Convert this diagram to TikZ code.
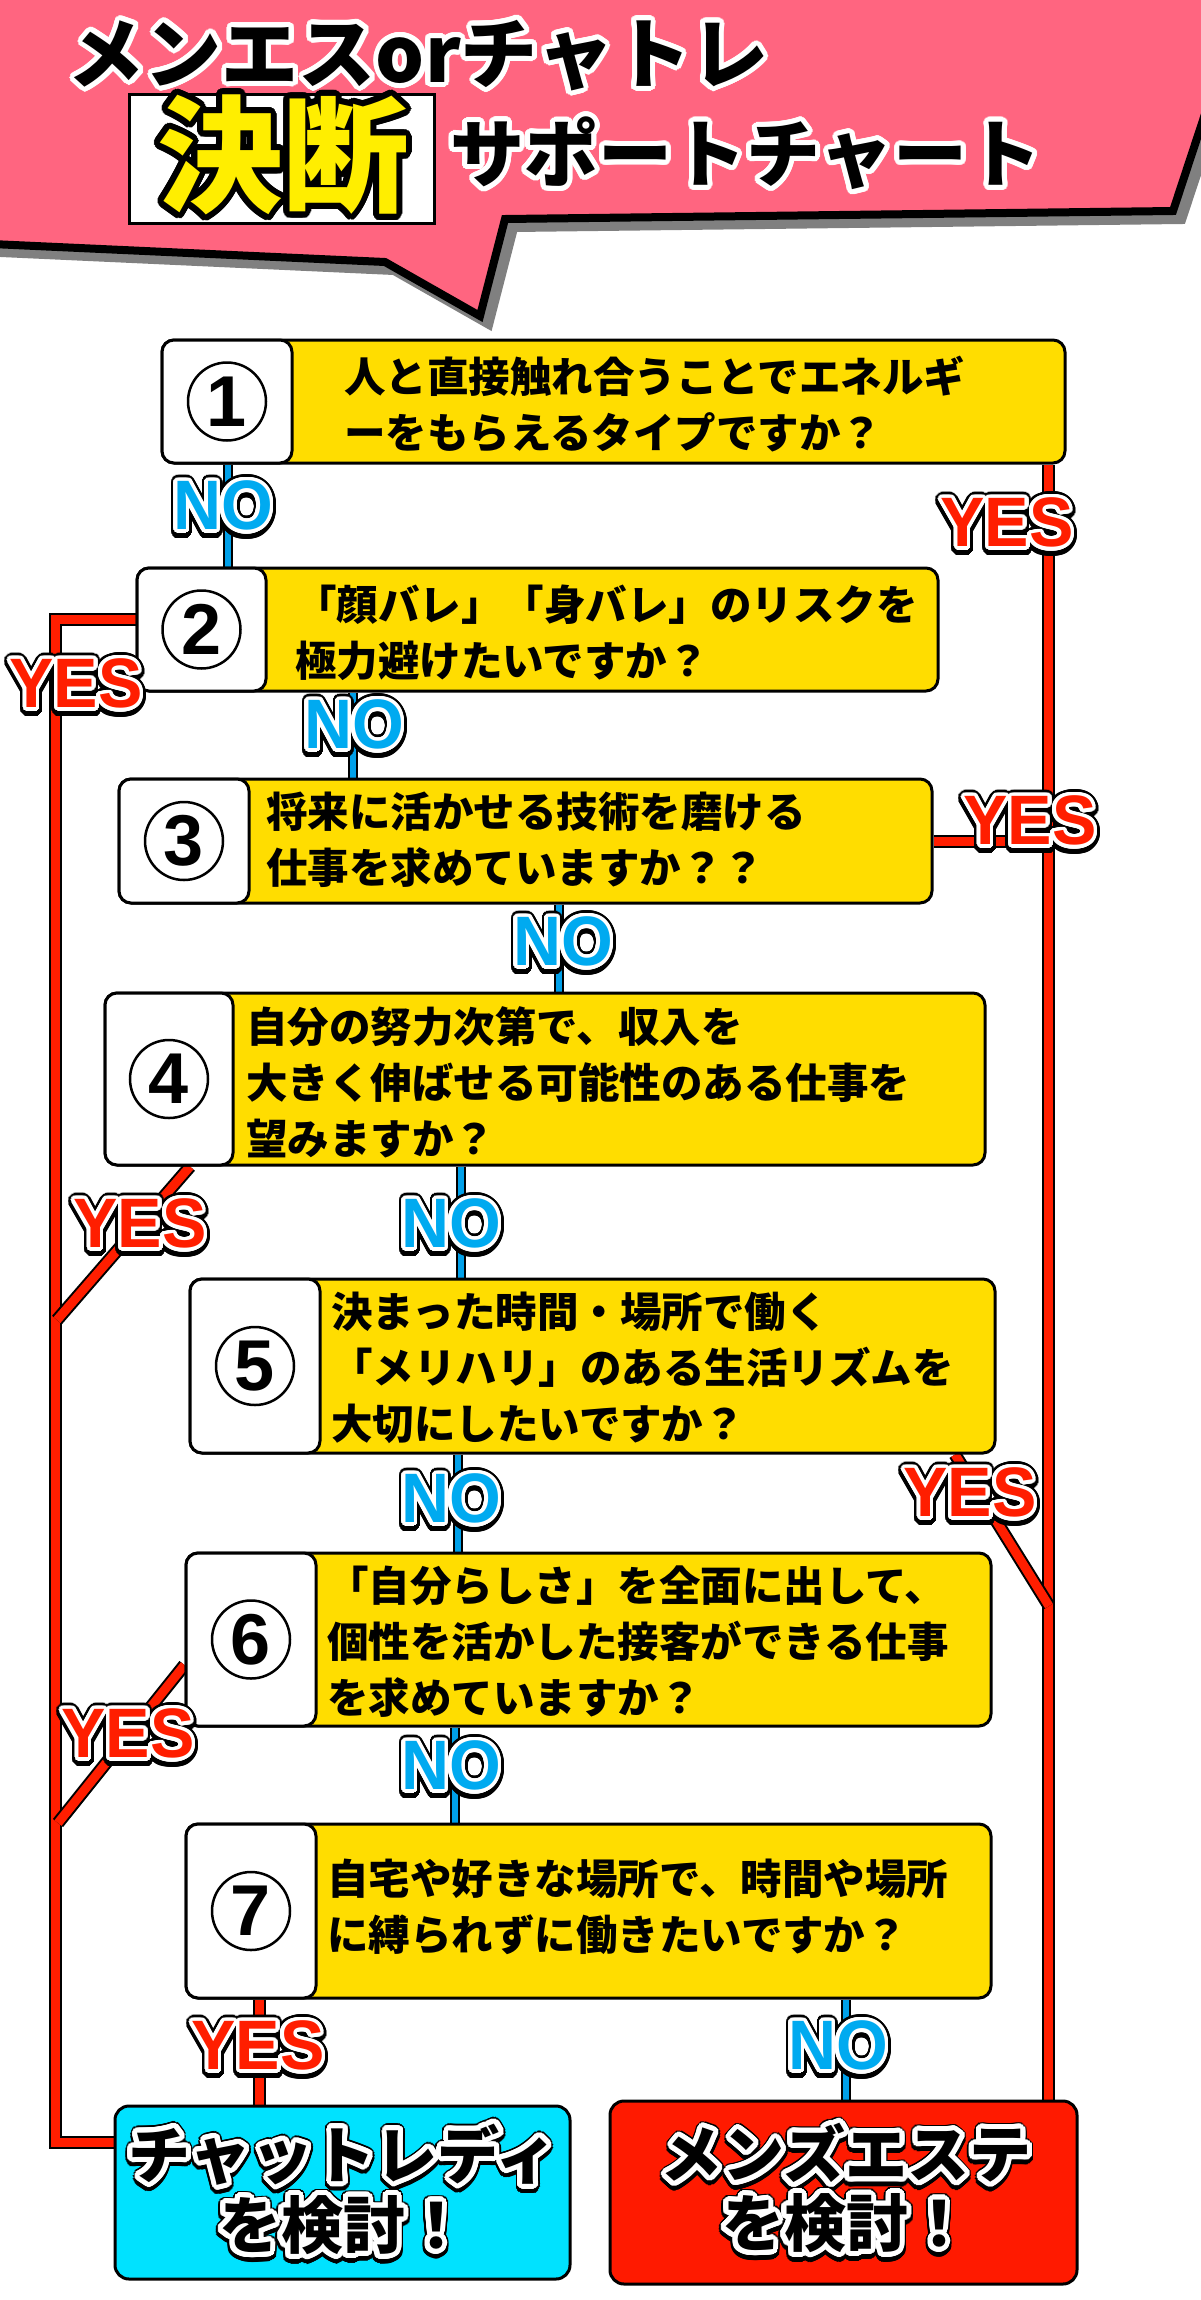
\documentclass[tikz,border=0pt]{standalone}
\usepackage{fontspec}
\usepackage[copies]{contour}
\newfontfamily\jp{Noto Sans CJK JP}
\newfontfamily\lab{Liberation Sans}[FakeStretch=0.95]
\newfontfamily\dig{Liberation Sans}
\definecolor{pinkbg}{RGB}{255,101,128}
\definecolor{qyellow}{RGB}{255,221,0}
\definecolor{noblue}{RGB}{0,170,240}
\definecolor{lineblue}{RGB}{0,160,233}
\definecolor{yesred}{RGB}{255,30,0}
\definecolor{chatcyan}{RGB}{0,226,255}
\definecolor{mensred}{RGB}{255,26,0}
\definecolor{titleyellow}{RGB}{255,238,0}
\definecolor{shadowgray}{RGB}{128,128,128}
\contournumber{32}
\newcommand\outl[4]{%
  \leavevmode
  \rlap{\raisebox{-3pt}{\contourlength{#3}\contour{black}{#4}}}%
  \rlap{\contourlength{#3}\contour{black}{#4}}%
  \contourlength{#2}\textcolor{#1}{\contour{white}{#4}}}
\pgfdeclarelayer{bg}
\pgfdeclarelayer{conn}
\pgfsetlayers{bg,conn,main}
\begin{document}
\begin{tikzpicture}[x=1pt,y=-1pt,
  qbox/.style={rectangle, draw=black, line width=3pt, fill=qyellow, rounded corners=12pt, inner sep=0pt},
  wpart/.style={rectangle, draw=black, line width=3pt, fill=white, rounded corners=12pt, inner sep=0pt, anchor=west},
  numc/.style={circle, draw=black, line width=2.5pt, fill=white, minimum size=78pt, inner sep=0pt, font=\dig\bfseries\fontsize{72}{72}\selectfont},
  qtext/.style={anchor=west, align=left, inner sep=0pt, font=\jp\bfseries\fontsize{41.5}{56}\selectfont},
  noline/.style={line width=1.75pt, draw=black, double=lineblue, double distance=6.5pt},
  yesline/.style={line width=2pt, draw=black, double=yesred, double distance=9pt},
  lbl/.style={inner sep=0pt, font=\lab\bfseries\fontsize{70}{70}\selectfont},
  fbox/.style={rectangle, draw=black, line width=3pt, rounded corners=14pt, inner sep=0pt},
  ftext/.style={inner sep=0pt, align=center, font=\jp\bfseries\fontsize{62}{69}\selectfont},
]
\begin{pgfonlayer}{bg}
\fill[white] (0,0) rectangle (1200,2300);
\end{pgfonlayer}
\useasboundingbox (0,0) rectangle (1200,2300);

% ---------- banner ----------
\filldraw[shadowgray, line width=8pt, line join=miter, shift={(9,9)}]
  (-30,-30) -- (1250,-30) -- (1240,8) -- (1173,211) -- (505,219) -- (480,316) -- (385,262) -- (-30,243) -- cycle;
\filldraw[fill=pinkbg, draw=black, line width=8pt, line join=miter]
  (-30,-30) -- (1250,-30) -- (1240,8) -- (1173,211) -- (505,219) -- (480,316) -- (385,262) -- (-30,243) -- cycle;
\node[inner sep=0pt, font=\jp\bfseries\fontsize{77}{77}\selectfont] (title1) at (418,58)
  {\contourlength{5pt}\textcolor{black}{\contour{white}{メンエスorチャトレ}}};
\node[rectangle, draw=black, line width=3pt, fill=white, minimum width=305pt, minimum height=129pt, inner sep=0pt] (kbox) at (281.5,159) {};
\node[inner sep=0pt, font=\jp\bfseries\fontsize{126}{126}\selectfont] (kettei) at (283,158)
  {\contourlength{6pt}\textcolor{titleyellow}{\contour{black}{決断}}};
\node[inner sep=0pt, font=\jp\bfseries\fontsize{74}{74}\selectfont] (title2) at (746,156)
  {\contourlength{5pt}\textcolor{black}{\contour{white}{サポートチャート}}};

% ---------- question boxes ----------
\node[qbox, minimum width=903pt, minimum height=123pt] (b1) at (613.5,401.5) {};
\node[wpart, minimum width=130pt, minimum height=123pt] (w1) at (b1.west) {};
\node[numc] (c1) at (w1) {1};
\node[qtext] (t1) at (344,404) {人と直接触れ合うことでエネルギ\\ーをもらえるタイプですか？};

\node[qbox, minimum width=801pt, minimum height=123pt] (b2) at (537.5,629.5) {};
\node[wpart, minimum width=129pt, minimum height=123pt] (w2) at (b2.west) {};
\node[numc] (c2) at (w2) {2};
\node[qtext] (t2) at (295,633) {「顔バレ」「身バレ」のリスクを\\極力避けたいですか？};

\node[qbox, minimum width=813pt, minimum height=124pt] (b3) at (525.5,841) {};
\node[wpart, minimum width=130pt, minimum height=124pt] (w3) at (b3.west) {};
\node[numc] (c3) at (w3) {3};
\node[qtext] (t3) at (266,840) {将来に活かせる技術を磨ける\\仕事を求めていますか？？};

\node[qbox, minimum width=880pt, minimum height=172pt] (b4) at (545,1079) {};
\node[wpart, minimum width=128pt, minimum height=172pt] (w4) at (b4.west) {};
\node[numc] (c4) at (w4) {4};
\node[qtext] (t4) at (246,1082) {自分の努力次第で、収入を\\大きく伸ばせる可能性のある仕事を\\望みますか？};

\node[qbox, minimum width=805pt, minimum height=174pt] (b5) at (592.5,1366) {};
\node[wpart, minimum width=130pt, minimum height=174pt] (w5) at (b5.west) {};
\node[numc] (c5) at (w5) {5};
\node[qtext] (t5) at (331,1368) {決まった時間・場所で働く\\「メリハリ」のある生活リズムを\\大切にしたいですか？};

\node[qbox, minimum width=805pt, minimum height=173pt] (b6) at (588.5,1639.5) {};
\node[wpart, minimum width=130pt, minimum height=173pt] (w6) at (b6.west) {};
\node[numc] (c6) at (w6) {6};
\node[qtext] (t6) at (327,1642) {「自分らしさ」を全面に出して、\\個性を活かした接客ができる仕事\\を求めていますか？};

\node[qbox, minimum width=805pt, minimum height=174pt] (b7) at (588.5,1911) {};
\node[wpart, minimum width=130pt, minimum height=174pt] (w7) at (b7.west) {};
\node[numc] (c7) at (w7) {7};
\node[qtext] (t7) at (327,1907) {自宅や好きな場所で、時間や場所\\に縛られずに働きたいですか？};

% ---------- result boxes ----------
\node[fbox, fill=chatcyan, minimum width=455pt, minimum height=173pt] (chat) at (342.5,2192.5) {};
\node[ftext] (chatt) at (343,2194) {\outl{black}{5pt}{6.5pt}{チャットレディ}\\\outl{black}{5pt}{6.5pt}{を検討！}};
\node[fbox, fill=mensred, minimum width=467pt, minimum height=183pt] (mens) at (843.5,2192.5) {};
\node[ftext] (menst) at (846,2193) {\outl{black}{5pt}{6.5pt}{メンズエステ}\\\outl{black}{5pt}{6.5pt}{を検討！}};

% ---------- helper coordinates ----------
\coordinate (x228) at (228,0);
\coordinate (x353) at (353,0);
\coordinate (x559) at (559,0);
\coordinate (x461) at (461,0);
\coordinate (x458) at (458,0);
\coordinate (x455) at (455,0);
\coordinate (x846) at (846,0);
\coordinate (x1048) at (1048,0);
\coordinate (x259) at (259,0);
\coordinate (x190) at (190,0);
\coordinate (x955) at (955,0);
\coordinate (y1665) at (0,1665);
\coordinate (yes2a) at (55,619);
\coordinate (yes2b) at (55,2142);
\coordinate (yes4e) at (57,1320);
\coordinate (yes5e) at (1049,1606);
\coordinate (yes6e) at (58,1823);

% ---------- connectors ----------
\begin{pgfonlayer}{conn}
\draw[yesline] (b1.south -| x1048) -- (mens.north -| x1048);
\draw[yesline] (yes2a -| b2.west) -- (yes2a) -- (yes2b) -- (yes2b -| chat.west);
\draw[yesline] (b3.east) -- (b3.east -| x1048);
\draw[yesline] (b4.south -| x190) -- (yes4e);
\draw[yesline] (b5.south -| x955) -- (yes5e);
\draw[yesline] (b6.west |- y1665) -- (yes6e);
\draw[yesline] (b7.south -| x259) -- (chat.north -| x259);
\draw[noline] (b1.south -| x228) -- (b2.north -| x228);
\draw[noline] (b2.south -| x353) -- (b3.north -| x353);
\draw[noline] (b3.south -| x559) -- (b4.north -| x559);
\draw[noline] (b4.south -| x461) -- (b5.north -| x461);
\draw[noline] (b5.south -| x458) -- (b6.north -| x458);
\draw[noline] (b6.south -| x455) -- (b7.north -| x455);
\draw[noline] (b7.south -| x846) -- (mens.north -| x846);
\end{pgfonlayer}

% ---------- labels ----------
\node[lbl] (lno1) at (223,510) {\outl{noblue}{3.5pt}{6pt}{NO}};
\node[lbl] (lyes1) at (1007,527) {\outl{yesred}{3.5pt}{6pt}{YES}};
\node[lbl] (lyes2) at (76,688) {\outl{yesred}{3.5pt}{6pt}{YES}};
\node[lbl] (lno2) at (354,729) {\outl{noblue}{3.5pt}{6pt}{NO}};
\node[lbl] (lyes3) at (1030,825) {\outl{yesred}{3.5pt}{6pt}{YES}};
\node[lbl] (lno3) at (563,946) {\outl{noblue}{3.5pt}{6pt}{NO}};
\node[lbl] (lyes4) at (140,1228) {\outl{yesred}{3.5pt}{6pt}{YES}};
\node[lbl] (lno4) at (451,1228) {\outl{noblue}{3.5pt}{6pt}{NO}};
\node[lbl] (lyes5) at (970,1497) {\outl{yesred}{3.5pt}{6pt}{YES}};
\node[lbl] (lno5) at (451,1503) {\outl{noblue}{3.5pt}{6pt}{NO}};
\node[lbl] (lyes6) at (128,1738) {\outl{yesred}{3.5pt}{6pt}{YES}};
\node[lbl] (lno6) at (451,1770) {\outl{noblue}{3.5pt}{6pt}{NO}};
\node[lbl] (lyes7) at (258,2050) {\outl{yesred}{3.5pt}{6pt}{YES}};
\node[lbl] (lno7) at (838,2050) {\outl{noblue}{3.5pt}{6pt}{NO}};
\end{tikzpicture}
\end{document}
